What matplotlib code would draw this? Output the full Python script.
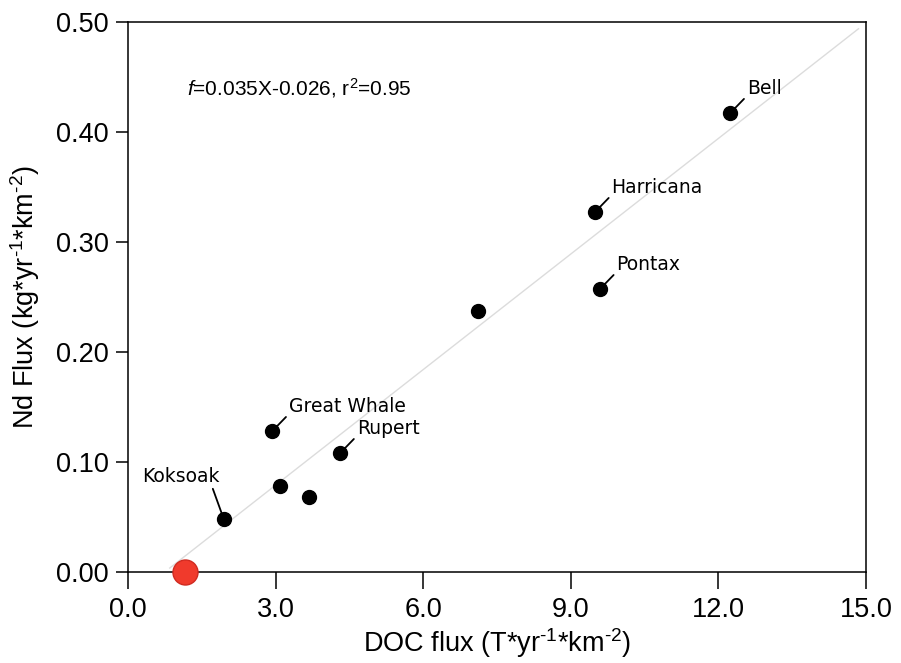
import numpy as np
import matplotlib
matplotlib.use("Agg")
import matplotlib.pyplot as plt

plt.rcParams['font.family'] = ['Liberation Sans', 'DejaVu Sans']
plt.rcParams['mathtext.fontset'] = 'custom'
plt.rcParams['mathtext.rm'] = 'Liberation Sans'
plt.rcParams['mathtext.it'] = 'Liberation Sans:italic'
plt.rcParams['mathtext.default'] = 'regular'

# DOC flux vs Nd flux per river
rivers = ['Bell', 'Harricana', 'Pontax', '', 'Great Whale', 'Rupert', '', '', 'Koksoak']
doc_flux = [12.24, 9.49, 9.59, 7.11, 2.93, 4.31, 3.09, 3.68, 1.95]
nd_flux = [0.417, 0.327, 0.257, 0.237, 0.128, 0.108, 0.078, 0.068, 0.048]

# highlighted river (no Nd flux)
red_doc = [1.16]
red_nd = [0.0]

# linear fit f = 0.035X - 0.026
slope, intercept = 0.035, -0.026
fit_x = np.array([0.85, 14.85])

fig = plt.figure(figsize=(9.01, 6.63), dpi=100)
ax = fig.add_axes([0.142, 0.137, 0.819, 0.830])

ax.plot(fit_x, slope * fit_x + intercept, color='#dcdcdc', lw=1.0, zorder=1)
ax.plot(doc_flux, nd_flux, 'o', color='black', ms=10, zorder=3)
ax.plot(red_doc, red_nd, 'o', color='#f03a2c', mec='#d02a20', mew=1.0,
        ms=18, zorder=4, clip_on=False)

for name, x, y in zip(rivers, doc_flux, nd_flux):
    if not name:
        continue
    if name == 'Koksoak':
        ax.annotate(name, (x, y), xytext=(-31, 24), textcoords='offset points',
                    ha='center', va='bottom', fontsize=13.5, family='DejaVu Sans',
                    arrowprops=dict(arrowstyle='-', color='black', lw=1.3,
                                    relpos=(0.9, 0), shrinkA=0, shrinkB=2))
    else:
        ax.annotate(name, (x, y), xytext=(12, 11), textcoords='offset points',
                    ha='left', va='bottom', fontsize=13.5, family='DejaVu Sans',
                    arrowprops=dict(arrowstyle='-', color='black', lw=1.3,
                                    relpos=(0, 0.1), shrinkA=0, shrinkB=2))

ax.text(1.2, 0.433, r'$\it{f}$=0.035X-0.026, r$^2$=0.95', fontsize=15,
        ha='left', va='baseline')

ax.set_xlim(0, 15)
ax.set_ylim(0, 0.5)
ax.set_xticks(np.arange(0, 15.1, 3))
ax.set_xticklabels([f'{v:.1f}' for v in np.arange(0, 15.1, 3)])
ax.set_yticks(np.arange(0, 0.51, 0.1))
ax.set_yticklabels([f'{v:.2f}' for v in np.arange(0, 0.51, 0.1)])

for s in ax.spines.values():
    s.set_linewidth(1.1)
ax.tick_params(axis='x', direction='out', length=12, width=1.1, pad=6, labelsize=19.5)
ax.tick_params(axis='y', direction='out', length=9, width=1.1, pad=5, labelsize=19.5)

ax.set_xlabel('DOC flux (T*yr$^{\u20101}$*km$^{\u20102}$)', fontsize=19.5, labelpad=2)
ax.set_ylabel('Nd Flux (kg*yr$^{\u20101}$*km$^{\u20102}$)', fontsize=19.5, labelpad=10)

fig.savefig('out.png', dpi=100)
